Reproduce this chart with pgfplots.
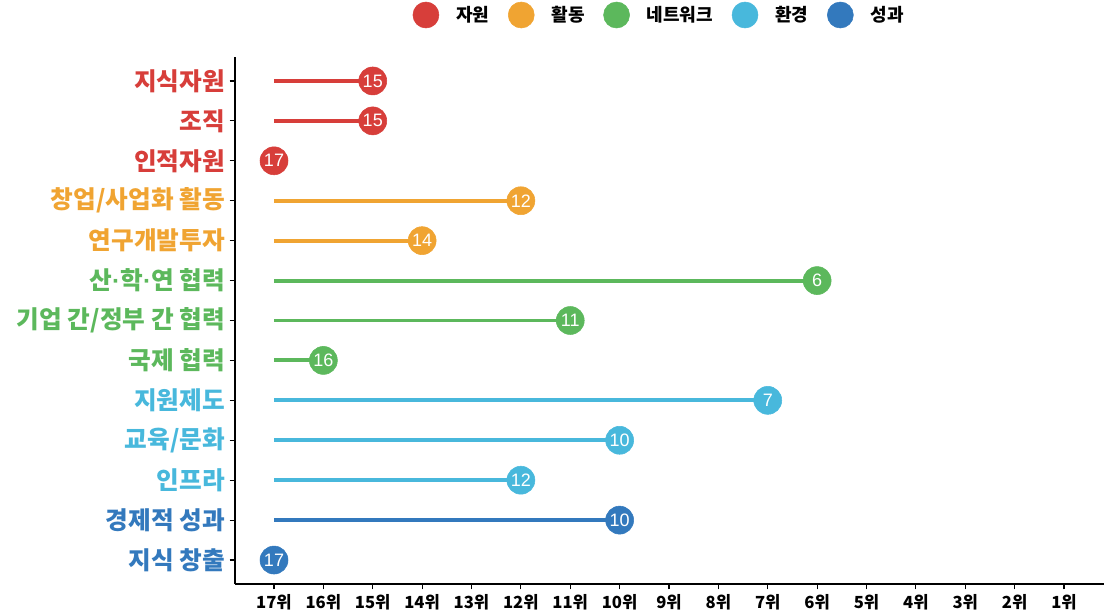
\documentclass[border=0pt]{standalone}
\usepackage{pgfplots}
\usepackage{pgfplotstable}
\pgfplotsset{compat=1.18}
\usepackage{fontspec}
\setmainfont{Noto Sans CJK KR}
\newfontfamily\numfont{Liberation Sans}

\definecolor{cred}{HTML}{D73E3A}
\definecolor{corange}{HTML}{F0A432}
\definecolor{cgreen}{HTML}{5CB85C}
\definecolor{clblue}{HTML}{48B8DC}
\definecolor{cblue}{HTML}{3379BD}

% row = position from top, r = rank
\pgfplotstableread{
row r
1 15
2 15
3 17
}\tabRes
\pgfplotstableread{
row r
4 12
5 14
}\tabAct
\pgfplotstableread{
row r
6 6
7 11
8 16
}\tabNet
\pgfplotstableread{
row r
9 7
10 10
11 12
}\tabEnv
\pgfplotstableread{
row r
12 10
13 17
}\tabOut

\newcommand{\md}{{\numfont\bfseries·}}

\pgfplotsset{
  stick/.style={forget plot, draw=none, mark=none,
    error bars/.cd, x dir=minus, x explicit, error mark=none,
    error bar style={#1, line width=2.9pt}},
  dot/.style={forget plot, only marks, mark=*, mark size=10.5pt, color=#1,
    point meta=explicit, nodes near coords, nodes near coords align=center,
    every node near coord/.style={text=white, anchor=center,
      font=\numfont\fontsize{13.5}{15}\selectfont}},
}

\begin{document}
\begin{tikzpicture}
\useasboundingbox (0,0) rectangle (828pt,459pt);
\begin{axis}[
  at={(176.25pt,21pt)}, anchor=south west,
  width=651.75pt, height=395.25pt, scale only axis,
  xmin=0.21, xmax=17.81,
  ymin=0.4, ymax=13.6,
  axis x line*=bottom, axis y line*=left,
  axis line style={line width=0.9pt},
  tick align=outside, major tick length=4pt,
  tick style={black, line width=0.9pt},
  /pgf/number format/assume math mode=true,
  xtick={1,...,17},
  xticklabels={17위,16위,15위,14위,13위,12위,11위,10위,9위,8위,7위,6위,5위,4위,3위,2위,1위},
  xticklabel style={font=\bfseries\fontsize{12.5}{14}\selectfont},
  ytick={1,...,13},
  yticklabels={
    \textcolor{cblue}{지식 창출},
    \textcolor{cblue}{경제적 성과},
    \textcolor{clblue}{인프라},
    \textcolor{clblue}{교육/문화},
    \textcolor{clblue}{지원제도},
    \textcolor{cgreen}{국제 협력},
    \textcolor{cgreen}{기업 간/정부 간 협력},
    \textcolor{cgreen}{산\md 학\md 연 협력},
    \textcolor{corange}{연구개발투자},
    \textcolor{corange}{창업/사업화 활동},
    \textcolor{cred}{인적자원},
    \textcolor{cred}{조직},
    \textcolor{cred}{지식자원}},
  yticklabel style={font=\bfseries\fontsize{18.5}{21}\selectfont},
  legend columns=5,
  legend style={at={(0.487,1.0797)}, anchor=center, draw=none, fill=none,
    font=\bfseries\fontsize{13.5}{15}\selectfont,
    nodes={inner sep=0pt},
    /tikz/every odd column/.append style={column sep=12.75pt},
    /tikz/every even column/.append style={column sep=14pt}},
]
\addlegendimage{legend image code/.code={\fill[cred] (0pt,0pt) circle (9.75pt);}}
\addlegendentry{자원}
\addlegendimage{legend image code/.code={\fill[corange] (0pt,0pt) circle (9.75pt);}}
\addlegendentry{활동}
\addlegendimage{legend image code/.code={\fill[cgreen] (0pt,0pt) circle (9.75pt);}}
\addlegendentry{네트워크}
\addlegendimage{legend image code/.code={\fill[clblue] (0pt,0pt) circle (9.75pt);}}
\addlegendentry{환경}
\addlegendimage{legend image code/.code={\fill[cblue] (0pt,0pt) circle (9.75pt);}}
\addlegendentry{성과}

\addplot[stick=cred] table[x expr=18-\thisrow{r}, y expr=14-\thisrow{row}, x error expr=17-\thisrow{r}] \tabRes;
\addplot[stick=corange] table[x expr=18-\thisrow{r}, y expr=14-\thisrow{row}, x error expr=17-\thisrow{r}] \tabAct;
\addplot[stick=cgreen] table[x expr=18-\thisrow{r}, y expr=14-\thisrow{row}, x error expr=17-\thisrow{r}] \tabNet;
\addplot[stick=clblue] table[x expr=18-\thisrow{r}, y expr=14-\thisrow{row}, x error expr=17-\thisrow{r}] \tabEnv;
\addplot[stick=cblue] table[x expr=18-\thisrow{r}, y expr=14-\thisrow{row}, x error expr=17-\thisrow{r}] \tabOut;

\addplot[dot=cred] table[x expr=18-\thisrow{r}, y expr=14-\thisrow{row}, meta=r] \tabRes;
\addplot[dot=corange] table[x expr=18-\thisrow{r}, y expr=14-\thisrow{row}, meta=r] \tabAct;
\addplot[dot=cgreen] table[x expr=18-\thisrow{r}, y expr=14-\thisrow{row}, meta=r] \tabNet;
\addplot[dot=clblue] table[x expr=18-\thisrow{r}, y expr=14-\thisrow{row}, meta=r] \tabEnv;
\addplot[dot=cblue] table[x expr=18-\thisrow{r}, y expr=14-\thisrow{row}, meta=r] \tabOut;
\end{axis}
\end{tikzpicture}
\end{document}
